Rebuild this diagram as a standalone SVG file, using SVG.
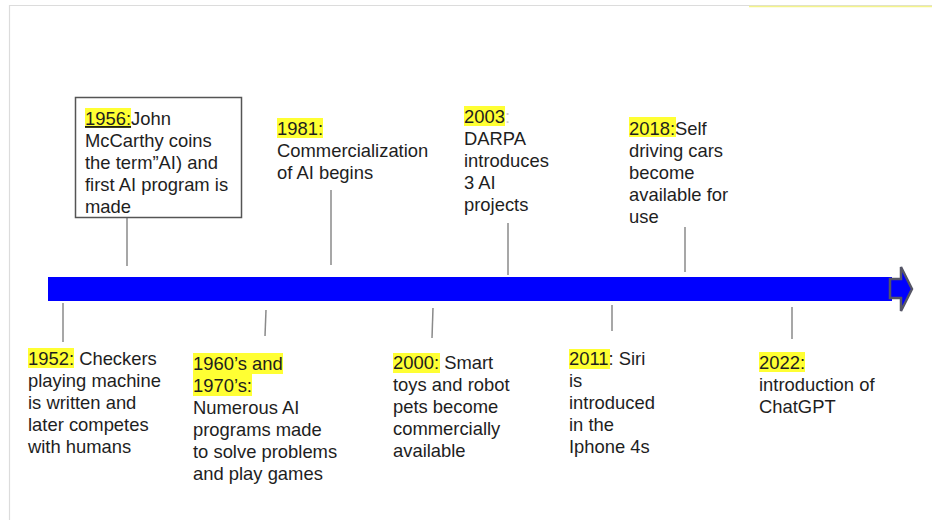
<svg xmlns="http://www.w3.org/2000/svg" width="932" height="520" viewBox="0 0 932 520">
  <style>
    text { font-family: "Liberation Sans", Arial, sans-serif; font-size: 18.4px; fill: #1e1e1e; }
    .hl { fill: #ffff33; }
    .tick { stroke: #8a8a8a; stroke-width: 1.5; fill: none; }
    .frame { stroke: #dcdcdc; stroke-width: 1.2; fill: none; }
  </style>

  <rect width="932" height="520" fill="#ffffff"/>

  <!-- page frame -->
  <path class="frame" d="M9.5 520 V5.5 H932"/>
  <line x1="749" y1="6.5" x2="932" y2="6.5" stroke="#f4f48a" stroke-width="1.5"/>

  <!-- timeline axis -->
  <g id="axis">
    <rect x="48" y="277" width="844" height="24" fill="#0000ff"/>
    <path d="M890 279 H901 V267 L912 289 L901 311 V298 H890 Z" fill="#0000ff" stroke="#555566" stroke-width="2.5" stroke-linejoin="miter"/>
  </g>

  <!-- connectors from events to the axis -->
  <g id="connectors">
    <line class="tick" x1="127" y1="217" x2="127" y2="266"/>
    <line class="tick" x1="331" y1="190" x2="331" y2="265"/>
    <line class="tick" x1="508" y1="223" x2="508" y2="275"/>
    <line class="tick" x1="685" y1="227" x2="685" y2="272"/>
    <line class="tick" x1="63" y1="303" x2="63" y2="342"/>
    <line class="tick" x1="266" y1="310" x2="265" y2="336"/>
    <line class="tick" x1="433" y1="308" x2="432" y2="338"/>
    <line class="tick" x1="612" y1="305" x2="612" y2="331"/>
    <line class="tick" x1="792" y1="307" x2="792" y2="339"/>
  </g>

  <!-- events above the axis -->
  <g id="e1956">
    <rect x="75.5" y="97.5" width="166" height="120" fill="none" stroke="#555" stroke-width="1.5"/>
    <rect class="hl" x="85" y="108" width="46" height="20"/>
    <text x="85" y="125"><tspan text-decoration="underline">1956:</tspan>John</text>
    <text x="85" y="147">McCarthy coins</text>
    <text x="85" y="169">the term”AI) and</text>
    <text x="85" y="191">first AI program is</text>
    <text x="85" y="213">made</text>
  </g>

  <g id="e1981">
    <rect class="hl" x="277" y="118" width="46" height="20"/>
    <text x="277" y="135">1981:</text>
    <text x="277" y="157">Commercialization</text>
    <text x="277" y="179">of AI begins</text>
  </g>

  <g id="e2003">
    <rect class="hl" x="464" y="106" width="41" height="20"/>
    <text x="464" y="123">2003<tspan fill="#cccccc">:</tspan></text>
    <text x="464" y="145">DARPA</text>
    <text x="464" y="167">introduces</text>
    <text x="464" y="189">3 AI</text>
    <text x="464" y="211">projects</text>
  </g>

  <g id="e2018">
    <rect class="hl" x="629" y="117" width="47" height="20"/>
    <text x="629" y="135">2018:Self</text>
    <text x="629" y="157">driving cars</text>
    <text x="629" y="179">become</text>
    <text x="629" y="201">available for</text>
    <text x="629" y="223">use</text>
  </g>

  <!-- events below the axis -->
  <g id="e1952">
    <rect class="hl" x="28" y="348" width="46" height="20"/>
    <text x="28" y="365">1952: Checkers</text>
    <text x="28" y="387">playing machine</text>
    <text x="28" y="409">is written and</text>
    <text x="28" y="431">later competes</text>
    <text x="28" y="453">with humans</text>
  </g>

  <g id="e1960s">
    <rect class="hl" x="193" y="353" width="90" height="21"/>
    <rect class="hl" x="193" y="374" width="59" height="22"/>
    <text x="193" y="370">1960’s and</text>
    <text x="193" y="392">1970’s:</text>
    <text x="193" y="414">Numerous AI</text>
    <text x="193" y="436">programs made</text>
    <text x="193" y="458">to solve problems</text>
    <text x="193" y="480">and play games</text>
  </g>

  <g id="e2000">
    <rect class="hl" x="393" y="353" width="47" height="20"/>
    <text x="393" y="369">2000: Smart</text>
    <text x="393" y="391">toys and robot</text>
    <text x="393" y="413">pets become</text>
    <text x="393" y="435">commercially</text>
    <text x="393" y="457">available</text>
  </g>

  <g id="e2011">
    <rect class="hl" x="569" y="349" width="41" height="20"/>
    <text x="569" y="365">2011: Siri</text>
    <text x="569" y="387">is</text>
    <text x="569" y="409">introduced</text>
    <text x="569" y="431">in the</text>
    <text x="569" y="453">Iphone 4s</text>
  </g>

  <g id="e2022">
    <rect class="hl" x="759" y="352" width="46" height="20"/>
    <text x="759" y="369">2022:</text>
    <text x="759" y="391">introduction of</text>
    <text x="759" y="413">ChatGPT</text>
  </g>
</svg>
